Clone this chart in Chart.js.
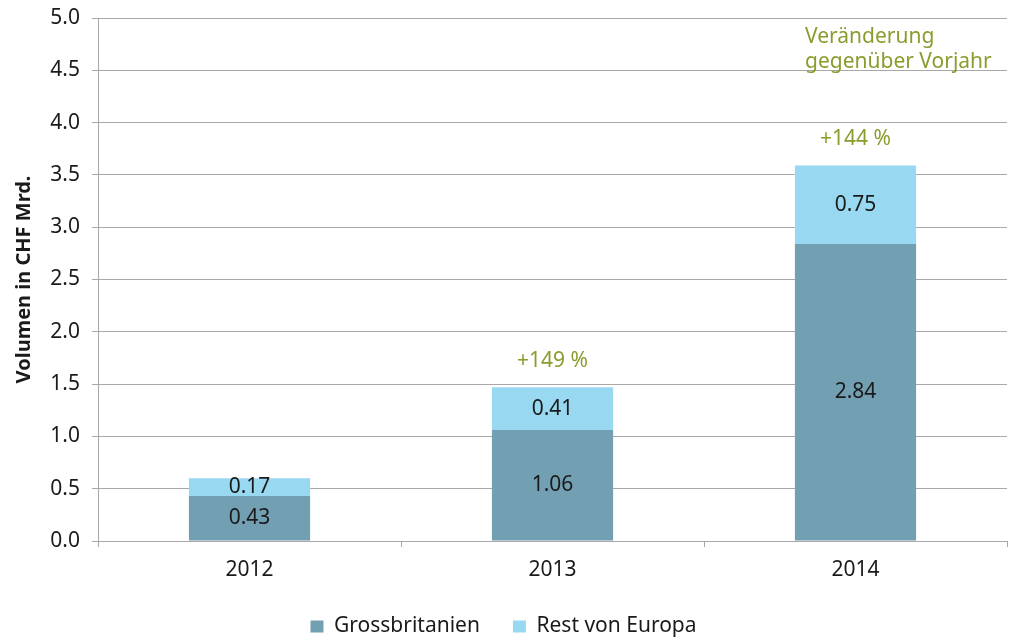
<!DOCTYPE html>
<html>
<head>
<meta charset="utf-8">
<script src="https://cdn.jsdelivr.net/npm/chart.js@4"></script>
<style>
  html, body { margin: 0; padding: 0; background: #fff; }
  #wrap { width: 1016px; height: 639px; }
</style>
</head>
<body>
<div id="wrap"><canvas id="volChart" width="1016" height="639"></canvas></div>
<script>
const years = ['2012', '2013', '2014'];
const grossbritanien = [0.43, 1.06, 2.84];
const restEuropa = [0.17, 0.41, 0.75];
const changeLabels = ['', '+149 %', '+144 %'];
const noteLines = ['Veränderung', 'gegenüber Vorjahr'];
const yTicks = [0, 0.5, 1, 1.5, 2, 2.5, 3, 3.5, 4, 4.5, 5];

const FONT = '"Noto Sans", "DejaVu Sans", sans-serif';
const GREEN = '#8c9b2d';
const GRID = '#a8a8a8';
const PLOT_BOTTOM = 541;

// draws the numbers inside the bars and the green change notes
const valueLabels = {
    id: 'valueLabels',
    afterDatasetsDraw(chart) {
        const ctx = chart.ctx;
        ctx.save();
        ctx.font = '21px ' + FONT;
        ctx.textAlign = 'center';
        ctx.textBaseline = 'middle';
        ctx.fillStyle = '#1a1a1a';
        chart.data.datasets.forEach((ds, i) => {
            chart.getDatasetMeta(i).data.forEach((bar, j) => {
                ctx.fillText(ds.data[j].toFixed(2), bar.x, (bar.y + bar.base) / 2);
            });
        });

        const tops = chart.getDatasetMeta(1).data;
        ctx.fillStyle = GREEN;
        changeLabels.forEach((t, j) => {
            if (t) ctx.fillText(t, tops[j].x, tops[j].y - 26);
        });

        ctx.textAlign = 'left';
        const area = chart.chartArea;
        noteLines.forEach((line, k) => {
            ctx.fillText(line, area.right - 202, area.top + 19 + k * 25);
        });
        ctx.restore();
    }
};

const ctx = document.getElementById('volChart').getContext('2d');

new Chart(ctx, {
    type: 'bar',
    data: {
        labels: years,
        datasets: [
            {
                label: 'Grossbritanien',
                data: grossbritanien,
                backgroundColor: '#729fb2',
                barPercentage: 0.4,
                categoryPercentage: 1
            },
            {
                label: 'Rest von Europa',
                data: restEuropa,
                backgroundColor: '#98d8f0',
                barPercentage: 0.4,
                categoryPercentage: 1
            }
        ]
    },
    options: {
        responsive: false,
        animation: false,
        layout: { padding: { top: 18, right: 9, left: 0, bottom: -8 } },
        plugins: {
            legend: {
                position: 'bottom',
                labels: {
                    font: { family: FONT, size: 21 },
                    color: '#1a1a1a',
                    boxWidth: 13,
                    boxHeight: 12,
                    padding: 33
                }
            },
            tooltip: { enabled: false }
        },
        scales: {
            x: {
                stacked: true,
                afterFit: (s) => {
                    const legendH = s.chart.legend ? s.chart.legend.height : 0;
                    s.height = s.chart.height + 8 - legendH - PLOT_BOTTOM;
                },
                grid: {
                    offset: true,
                    drawOnChartArea: false,
                    drawTicks: true,
                    tickLength: 6,
                    color: GRID
                },
                border: { color: GRID },
                ticks: {
                    font: { family: FONT, size: 21 },
                    color: '#1a1a1a',
                    padding: 10
                }
            },
            y: {
                stacked: true,
                min: 0,
                max: 5,
                afterFit: (s) => {
                    s.width = 98;
                    s.paddingTop = 0;
                    s.paddingBottom = 0;
                },
                afterBuildTicks: (s) => { s.ticks = yTicks.map(v => ({ value: v })); },
                grid: {
                    color: GRID,
                    tickLength: 6
                },
                border: { color: GRID },
                ticks: {
                    font: { family: FONT, size: 21 },
                    color: '#1a1a1a',
                    padding: 12,
                    callback: (v) => v.toFixed(1)
                },
                title: {
                    display: true,
                    text: 'Volumen in CHF Mrd.',
                    font: { family: FONT, size: 20, weight: 'bold' },
                    color: '#1a1a1a',
                    padding: { top: 12, bottom: 4 }
                }
            }
        }
    },
    plugins: [valueLabels]
});
</script>
</body>
</html>
